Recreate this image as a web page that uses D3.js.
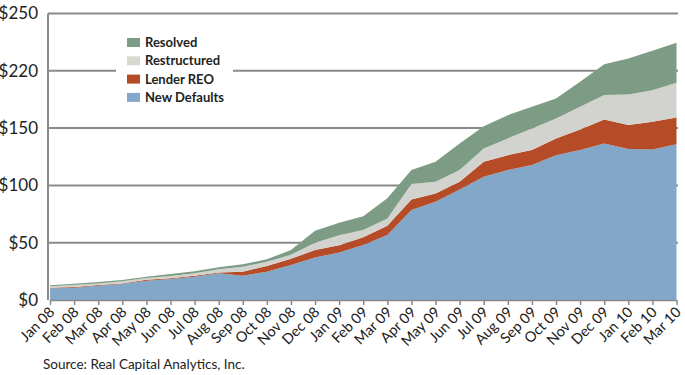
<!DOCTYPE html>
<html><head><meta charset="utf-8">
<script src="https://cdn.jsdelivr.net/npm/d3@7"></script>
<style>body{margin:0;background:#fff}svg{display:block;font-family:Lato,"Open Sans",sans-serif}</style>
</head><body><svg id="c" width="685" height="375"></svg>
<script>
const months = ["Jan 08","Feb 08","Mar 08","Apr 08","May 08","Jun 08","Jul 08","Aug 08","Sep 08","Oct 08","Nov 08","Dec 08",
  "Jan 09","Feb 09","Mar 09","Apr 09","May 09","Jun 09","Jul 09","Aug 09","Sep 09","Oct 09","Nov 09","Dec 09",
  "Jan 10","Feb 10","Mar 10"];
const newDefaults = [10.2,10.7,12.5,14.0,16.9,18.3,20.3,23.3,21.2,24.7,30.5,37.0,41.5,48.0,56.7,78.5,85.7,96.5,107.5,113.4,117.7,126.4,130.8,136.6,131.7,131.4,136.0];
const lenderREO   = [0.5,0.6,0.5,0.5,0.8,0.6,0.9,0.6,3.5,4.9,5.5,6.6,6.3,6.8,8.0,9.3,7.3,6.7,13.1,13.0,13.1,14.6,18.0,20.9,20.9,24.1,23.3];
const restructured= [1.2,1.8,1.5,1.8,1.5,2.0,2.1,2.9,4.3,3.8,3.5,6.4,8.7,6.2,6.5,13.4,10.2,10.2,11.7,14.6,18.9,17.4,19.8,21.3,26.8,27.6,30.2];
const resolved    = [0.9,1.1,1.2,1.1,1.1,1.8,1.7,1.7,2.1,2.1,4.1,10.4,10.8,12.0,17.5,12.2,17.4,23.2,19.4,20.3,18.9,17.4,21.8,27.0,31.4,34.3,34.9];
const yTicks = [0,50,100,150,200,250];
const yTickLabels = ["$0","$50","$100","$150","$220","$250"];
const seriesNames = ["New Defaults","Lender REO","Restructured","Resolved"];
const colors = ["#82a7c8","#b54b27","#d2d2ce","#7d9c85"];
const legendColors = ["#82a7c8","#b54b27","#d6d9cf","#7d9c85"];

const svg = d3.select("#c");
const x = d3.scalePoint().domain(months).range([50, 676.5]);
const y = d3.scaleLinear().domain([0,250]).range([300, 13.5]);

const rows = months.map((m,i)=>({m, "New Defaults":newDefaults[i],"Lender REO":lenderREO[i],"Restructured":restructured[i],"Resolved":resolved[i]}));
const stack = d3.stack().keys(seriesNames)(rows);

// gridlines
svg.append("g").selectAll("line").data(yTicks.slice(1)).join("line")
  .attr("x1",48).attr("x2",678).attr("y1",d=>y(d)).attr("y2",d=>y(d))
  .attr("stroke","#8a8a8a").attr("stroke-width",2);

const area = d3.area().x(d=>x(d.data.m)).y0(d=>y(d[0])).y1(d=>y(d[1]));
svg.append("g").selectAll("path").data(stack).join("path")
  .attr("d",area).attr("fill",(d,i)=>colors[i]);

// y axis
const ya = svg.append("g").attr("transform","translate(48,0)")
  .call(d3.axisLeft(y).tickValues(yTicks).tickSize(0).tickFormat((d,i)=>yTickLabels[i]));
ya.select(".domain").attr("stroke","#8a8a8a").attr("stroke-width",2).attr("d","M0,300V13.5");
ya.selectAll("text").attr("x",-10).attr("font-size",17).attr("fill","#222").attr("font-family","Lato,'Open Sans',sans-serif");

// x axis
const xa = svg.append("g").attr("transform","translate(0,300)")
  .call(d3.axisBottom(x).tickSize(5).tickSizeOuter(0));
xa.select(".domain").attr("stroke","#8a8a8a").attr("stroke-width",1.5);
xa.selectAll(".tick line").attr("stroke","#8a8a8a").attr("stroke-width",1.5);
xa.selectAll("text").attr("font-size",14.5).attr("fill","#222").attr("font-family","Lato,'Open Sans',sans-serif")
  .attr("text-anchor","end").attr("dy",0).attr("y",0)
  .attr("transform","translate(5,13) rotate(-45)");

// legend
const lg = svg.append("g");
lg.append("rect").attr("x",116).attr("y",30).attr("width",117).attr("height",80).attr("fill","#fff");
const order = [3,2,1,0];
order.forEach((si,k)=>{
  const cy = 42.5 + k*18.3;
  lg.append("rect").attr("x",127).attr("y",cy-4.5).attr("width",13).attr("height",9).attr("fill",legendColors[si]);
  lg.append("text").attr("x",145).attr("y",cy).attr("dy","0.35em").attr("font-size",13).attr("font-weight",700)
    .attr("fill","#222").text(seriesNames[si]);
});

svg.append("text").attr("x",43).attr("y",369).attr("font-size",13.5).attr("fill","#222").text("Source: Real Capital Analytics, Inc.");
</script></body></html>
